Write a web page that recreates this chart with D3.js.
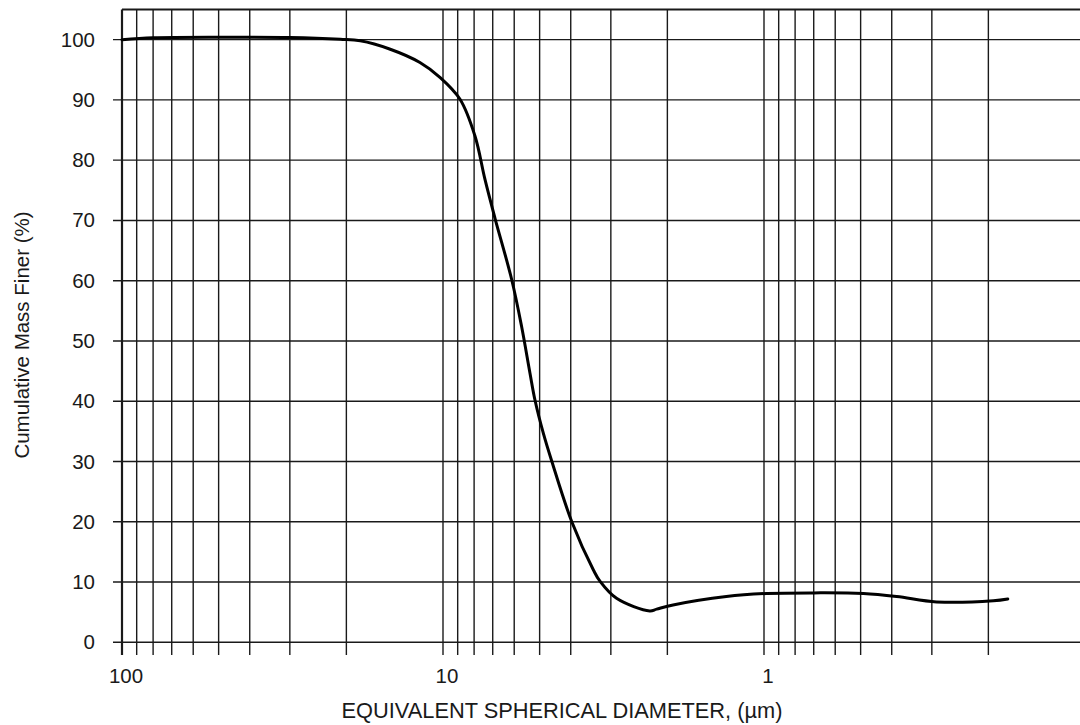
<!DOCTYPE html>
<html>
<head>
<meta charset="utf-8">
<script src="https://cdn.jsdelivr.net/npm/d3@7/dist/d3.min.js"></script>
<style>
  html, body { margin: 0; padding: 0; background: #fff; }
  svg { display: block; font-family: "Liberation Sans", Arial, Helvetica, sans-serif; }
</style>
</head>
<body>
<svg id="chart" width="1080" height="725"></svg>
<script>
// Equivalent spherical diameter (µm) and cumulative mass finer (%)
const diameters = [100, 80, 50, 30, 20.9, 18.1, 14.6, 11.8, 10.2, 8.85, 7.95, 7.4, 6.89, 6.11, 5.69, 5.36, 5.17, 4.87, 4.58, 3.97, 3.4, 3.24, 2.88, 2.27, 2.16, 1.92, 1.31, 0.98, 0.70, 0.49, 0.386, 0.29, 0.193, 0.174];
const massFiner = [100, 100.3, 100.4, 100.35, 100.05, 99.8, 98.4, 96.2, 93.7, 90.1, 84.0, 76.8, 70.4, 60.2, 52.4, 44.7, 40.2, 34.7, 30.0, 20.0, 12.0, 10.1, 7.3, 5.2, 5.5, 6.2, 7.6, 8.1, 8.2, 8.1, 7.6, 6.7, 6.9, 7.2];

const xGridValues = [100, 90, 80, 70, 60, 50, 40, 30, 20, 10, 9, 8, 7, 6, 5, 4, 3, 2, 1, 0.9, 0.8, 0.7, 0.6, 0.5, 0.4, 0.3, 0.2];
const xLabelValues = [100, 10, 1];
const xLabels = ["100", "10", "1"];
const yTickValues = [0, 10, 20, 30, 40, 50, 60, 70, 80, 90, 100];

const svg = d3.select("#chart");
const W = 1080;
const FONT = '"Liberation Sans", Arial, Helvetica, sans-serif';

const x = d3.scaleLog().domain([100, 0.1]).range([122, 1085]);
const y = d3.scaleLinear().domain([0, 105]).range([642.3, 9.5]);

const ink = "#1a1a1a";

// horizontal grid lines (with tick stubs to the left)
svg.append("g").selectAll("line").data(yTickValues).join("line")
  .attr("x1", 113).attr("x2", W)
  .attr("y1", d => y(d)).attr("y2", d => y(d))
  .attr("stroke", ink).attr("stroke-width", 1.4);

// top border
svg.append("line")
  .attr("x1", x(100)).attr("x2", W)
  .attr("y1", y(105)).attr("y2", y(105))
  .attr("stroke", ink).attr("stroke-width", 1.8);

// vertical grid lines (extend below zero line)
svg.append("g").selectAll("line").data(xGridValues).join("line")
  .attr("x1", d => x(d)).attr("x2", d => x(d))
  .attr("y1", y(105)).attr("y2", 655)
  .attr("stroke", ink)
  .attr("stroke-width", d => d === 100 ? 2.2 : 1.4);

// y axis labels
const yAxis = d3.axisLeft(y).tickValues(yTickValues).tickSize(0).tickPadding(27);
const gy = svg.append("g").attr("transform", `translate(${x(100)},0)`).call(yAxis);
gy.select(".domain").remove();
gy.selectAll("text").attr("font-size", 20.5).attr("fill", ink).attr("font-family", FONT);

// x axis labels
const xAxis = d3.axisBottom(x).tickValues(xLabelValues).tickSize(0)
  .tickFormat((d, i) => xLabels[i]);
const gx = svg.append("g").attr("transform", `translate(3.5,${y(0)})`).call(xAxis);
gx.select(".domain").remove();
gx.selectAll("text").attr("font-size", 20.5).attr("fill", ink)
  .attr("y", 26).attr("dy", "0.71em").attr("font-family", FONT);

// curve
const pts = diameters.map((d, i) => [d, massFiner[i]]);
const line = d3.line()
  .x(d => x(d[0])).y(d => y(d[1]))
  .curve(d3.curveCatmullRom.alpha(0.5));
svg.append("path").datum(pts)
  .attr("d", line)
  .attr("fill", "none")
  .attr("stroke", "#000")
  .attr("stroke-width", 3)
  .attr("stroke-linejoin", "round")
  .attr("stroke-linecap", "round");

// axis titles
svg.append("text")
  .attr("transform", "translate(29,335) rotate(-90)")
  .attr("text-anchor", "middle")
  .attr("font-size", 20.5)
  .attr("fill", ink)
  .attr("font-family", FONT)
  .text("Cumulative Mass Finer (%)");

svg.append("text")
  .attr("x", 562).attr("y", 718)
  .attr("text-anchor", "middle")
  .attr("font-size", 21.8)
  .attr("fill", ink)
  .attr("font-family", FONT)
  .text("EQUIVALENT SPHERICAL DIAMETER, (µm)");
</script>
</body>
</html>
